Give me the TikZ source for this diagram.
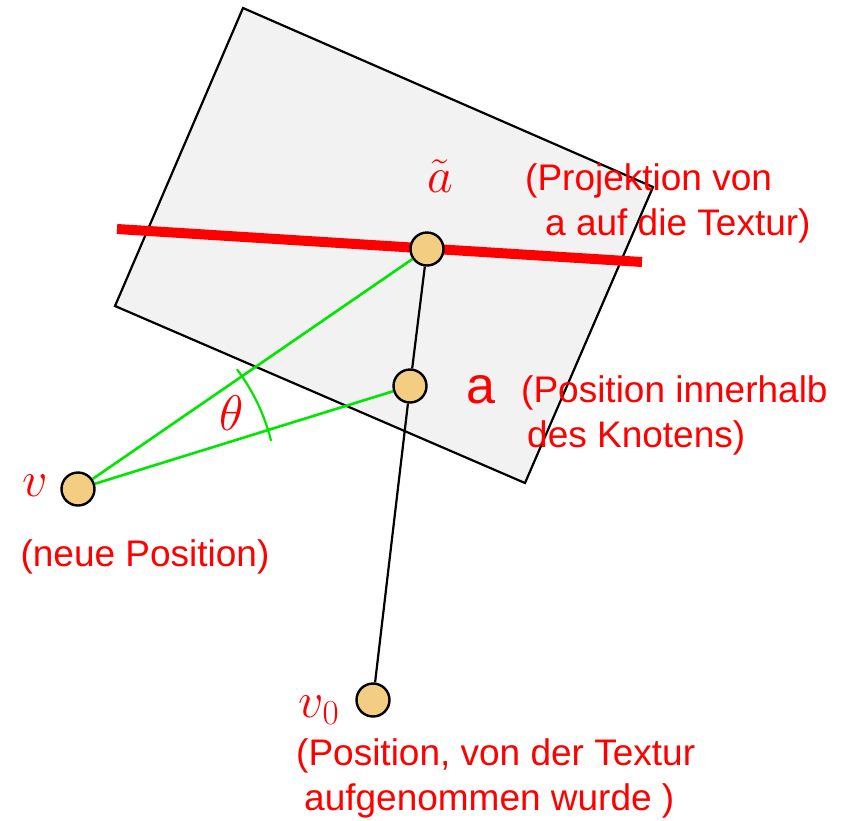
\RequirePackage{fix-cm}
\documentclass[tikz,border=0pt]{standalone}
\usepackage{fontspec}
\setmainfont{Liberation Sans}
\usepackage{xcolor}
\usepackage{tikz}

\definecolor{knoten}{HTML}{F2CD82}
\definecolor{gruen}{HTML}{00E600}

\begin{document}
\begin{tikzpicture}[x=1pt,y=-1pt,
    punkt/.style={circle,draw,line width=2.4pt,fill=knoten,inner sep=0pt,minimum size=33pt},
    kante/.style={line width=2.2pt},
    strahl/.style={line width=2.6pt,gruen},
    winkel/.style={line width=2.2pt,gruen},
    textur/.style={line width=10pt,red},
    hinweis/.style={red,inner sep=0pt,align=left,font=\fontsize{37}{45}\selectfont},
    mathlab/.style={red,inner sep=0pt,font=\fontsize{50}{54}\selectfont}
]
\useasboundingbox (0,0) rectangle (842,820);
%%% texture quad (rotated)
\draw[kante,fill=black!5] (243,8) -- (653,187) -- (525,483) -- (115,306) -- cycle;
% projected texture line
\coordinate (t1) at (117,229);
\coordinate (t2) at (642,262);
\draw[textur] (t1) -- (t2);

%%% points
\node[punkt] (atil) at (427,249) {};
\node[punkt] (a) at (410,386) {};
\node[punkt] (v) at (78,489) {};
\node[punkt] (vnull) at (373,700) {};

% black connection through a
\draw[kante] (atil) -- (a);
\draw[kante] (a) -- (vnull);
% green rays from v
\draw[strahl] (v) -- (atil);
\draw[strahl] (v) -- (a);
% angle arc
\draw[winkel] ([shift={(14:199pt)}]v.center) arc[start angle=14,end angle=37,radius=199pt];

%%% labels
\node[mathlab] (lth) at (232,413) {$\theta$};
\node[mathlab] (latil) at (440,176) {$\tilde{a}$};
\node[hinweis,anchor=west] (latiltxt) at (525,203) {(Projektion von\\\hspace{20pt}a auf die Textur)};
\node[red,inner sep=0pt,font=\fontsize{52}{60}\selectfont] (la) at (481,390) {a};
\node[hinweis,anchor=west] (latxt) at (521,415) {(Position innerhalb\\\hspace{6pt}des Knotens)};
\node[mathlab] (lv) at (35,486) {$v$};
\node[hinweis] (lvtxt) at (145,557) {(neue Position)};
\node[mathlab] (lvnull) at (319,710) {$v_0$};
\node[hinweis,anchor=west] (lvnulltxt) at (296,778) {(Position, von der Textur\\\hspace{8pt}aufgenommen wurde )};
\end{tikzpicture}
\end{document}
